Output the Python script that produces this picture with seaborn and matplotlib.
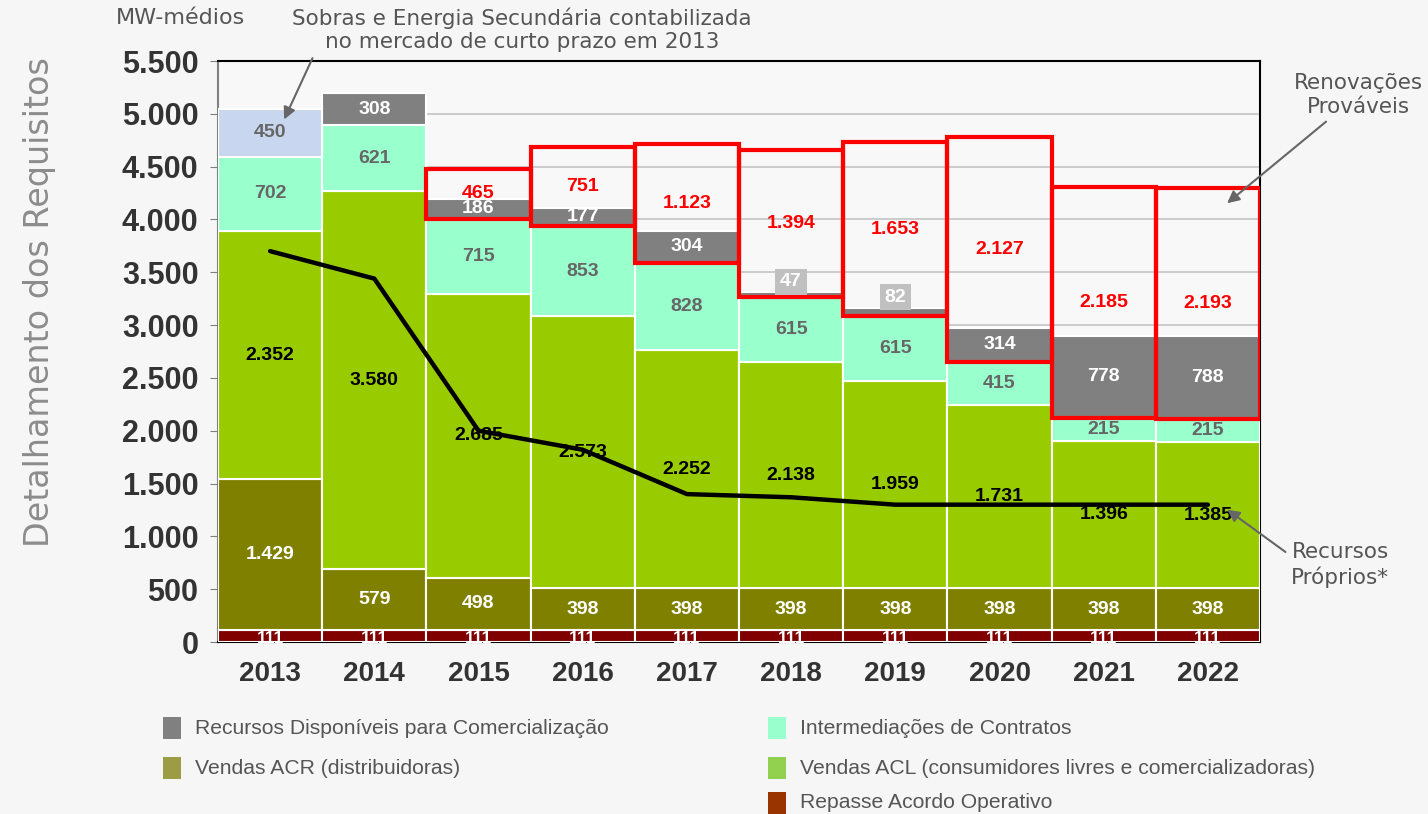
import matplotlib
matplotlib.use('Agg')
import matplotlib.pyplot as plt
import numpy as np
import pandas as pd
import seaborn as sns

# dados (MW-médios)
anos = ['2013', '2014', '2015', '2016', '2017', '2018', '2019', '2020', '2021', '2022']
repasse = [111, 111, 111, 111, 111, 111, 111, 111, 111, 111]
vendas_acr = [1429, 579, 498, 398, 398, 398, 398, 398, 398, 398]
vendas_acl = [2352, 3580, 2685, 2573, 2252, 2138, 1959, 1731, 1396, 1385]
intermed = [702, 621, 715, 853, 828, 615, 615, 415, 215, 215]
disponiveis = [0, 308, 186, 177, 304, 47, 82, 314, 778, 788]
sobras = [450, 0, 0, 0, 0, 0, 0, 0, 0, 0]
renovacoes = [0, 0, 465, 751, 1123, 1394, 1653, 2127, 2185, 2193]
recursos_proprios = [3700, 3440, 2000, 1820, 1400, 1370, 1300, 1300, 1300, 1300]

sns.set_style('white')
plt.rcParams['font.family'] = ['Liberation Sans', 'DejaVu Sans']


def fmt(v):
    return f'{int(v):,}'.replace(',', '.')


fig = plt.figure(figsize=(14.28, 8.14), dpi=100, facecolor='#f6f6f6')
ax = fig.add_axes([218 / 1428, 1 - 642 / 814, 1042 / 1428, 581 / 814])
ax.set_facecolor('#f8f8f8')

df = pd.DataFrame({'ano': anos, 'repasse': repasse, 'acr': vendas_acr, 'acl': vendas_acl,
                   'intermed': intermed, 'disp': disponiveis, 'sobras': sobras,
                   'renov': renovacoes, 'proprios': recursos_proprios})

camadas = [('repasse', '#800000', 'white'), ('acr', '#808000', 'white'), ('acl', '#99cc00', 'black'),
           ('intermed', '#99ffcc', '#666666'), ('disp', '#808080', 'white'), ('sobras', '#c9d6ef', '#666666')]

df['base'] = 0.0
bases = {}
for col, cor, cor_txt in camadas:
    bases[col] = df['base'].copy()
    sub = df[df[col] > 0]
    sns.barplot(data=sub, x='ano', y=col, order=anos, color=cor, width=1.0, saturation=1,
                bottom=sub['base'].to_numpy(), edgecolor='white', linewidth=1.5, ax=ax, zorder=3)
    for i, row in df.iterrows():
        v = row[col]
        if v <= 0:
            continue
        if col == 'disp' and v < 100:
            ax.text(i, row['base'] + v + 100, fmt(v), ha='center', va='center', color='white',
                    fontsize=14, fontweight='bold', zorder=8,
                    bbox=dict(boxstyle='square,pad=0.25', fc='#c0c0c0', ec='none'))
            continue
        y = row['base'] + v / 2
        fs = 14
        if col == 'repasse':
            fs = 12.5
            y = row['base'] + v * 0.3
        ax.text(i, y, fmt(v), ha='center', va='center', color=cor_txt, fontsize=fs,
                fontweight='bold', zorder=8)
    df['base'] = df['base'] + df[col]

# renovações prováveis: caixa vermelha a partir do topo das intermediações
df['base_renov'] = bases['disp']
sub = df[df['renov'] > 0]
sns.barplot(data=sub, x='ano', y='renov', order=anos, width=1.0, fill=False,
            bottom=sub['base_renov'].to_numpy(), color='red', edgecolor='#ff0000', linewidth=3,
            ax=ax, zorder=6)
for i, row in sub.iterrows():
    ax.text(i, row['base_renov'] + row['renov'] / 2, fmt(row['renov']), ha='center', va='center',
            color='#ff0000', fontsize=14, fontweight='bold', zorder=8)

# recursos próprios
sns.lineplot(x=np.arange(len(anos)), y=recursos_proprios, color='black', linewidth=3.2, ax=ax, zorder=7)

ax.set_xlim(-0.5, len(anos) - 0.5)
ax.set_ylim(0, 5500)
ax.set_yticks(np.arange(0, 5501, 500))
ax.set_yticklabels([fmt(v) for v in range(0, 5501, 500)],
                   fontsize=22, fontweight='bold', color='#333333')
ax.set_xticks(range(len(anos)))
ax.set_xticklabels(anos, fontsize=20, fontweight='bold', color='#333333')
ax.set_xticks(np.arange(-0.5, len(anos)), minor=True)
ax.tick_params(axis='x', which='major', length=0, pad=14)
ax.tick_params(axis='x', which='minor', length=8, width=1.5, color='black', direction='out')
ax.tick_params(axis='y', length=6, color='#808080', pad=8, left=True)
ax.grid(axis='y', color='#c8c8c8', linewidth=1.3, zorder=0)
ax.set_axisbelow(True)
ax.set_xlabel('')
ax.set_ylabel('')
for s in ['top', 'right', 'bottom']:
    ax.spines[s].set_visible(True)
    ax.spines[s].set_color('black')
    ax.spines[s].set_linewidth(1.5)
ax.spines['left'].set_color('#808080')
ax.spines['left'].set_linewidth(1.5)

fig.text(40 / 1428, 1 - 302 / 814, 'Detalhamento dos Requisitos', rotation=90, ha='center', va='center',
         fontsize=24, color='#8c8c8c', family=['DejaVu Sans'])
fig.text(180 / 1428, 1 - 18 / 814, 'MW-médios', ha='center', va='center', fontsize=16,
         color='#555555', family=['DejaVu Sans'])

ann = dict(color='#555555', ha='center', va='center', family=['DejaVu Sans'])
arrow = dict(arrowstyle='-|>', color='#666666', lw=1.5, mutation_scale=18)
ax.annotate('Sobras e Energia Secundária contabilizada\nno mercado de curto prazo em 2013',
            xy=(283 / 1428, 1 - 122 / 814), xycoords='figure fraction',
            xytext=(522 / 1428, 1 - 30 / 814), textcoords='figure fraction', fontsize=15.5,
            arrowprops=dict(**arrow, relpos=(0.05, 0.0)), annotation_clip=False, zorder=9, **ann)
ax.annotate('Renovações\nProváveis', xy=(1225 / 1428, 1 - 205 / 814), xycoords='figure fraction',
            xytext=(1358 / 1428, 1 - 95 / 814), textcoords='figure fraction', fontsize=15.5,
            arrowprops=dict(**arrow, relpos=(0.3, 0.0)), annotation_clip=False, zorder=9, **ann)
ax.annotate('Recursos\nPróprios*', xy=(1225 / 1428, 1 - 508 / 814), xycoords='figure fraction',
            xytext=(1340 / 1428, 1 - 565 / 814), textcoords='figure fraction', fontsize=15.5,
            arrowprops=dict(**arrow, relpos=(0.0, 0.7)), annotation_clip=False, zorder=9, **ann)

# legenda
itens = [('Recursos Disponíveis para Comercialização', '#808080', 163, 728),
         ('Vendas ACR (distribuidoras)', '#9c9c44', 163, 768),
         ('Intermediações de Contratos', '#99ffcc', 768, 728),
         ('Vendas ACL (consumidores livres e comercializadoras)', '#92d050', 768, 768),
         ('Repasse Acordo Operativo', '#993300', 768, 803)]
for nome, cor, px, py in itens:
    fig.patches.append(plt.Rectangle((px / 1428, 1 - (py + 11) / 814), 18 / 1428, 22 / 814,
                                     transform=fig.transFigure, fc=cor, ec='none'))
    fig.text((px + 32) / 1428, 1 - py / 814, nome, ha='left', va='center', fontsize=15.2,
             color='#555555', family=['Liberation Sans', 'DejaVu Sans'])

fig.savefig('out.png', dpi=100, facecolor=fig.get_facecolor())
